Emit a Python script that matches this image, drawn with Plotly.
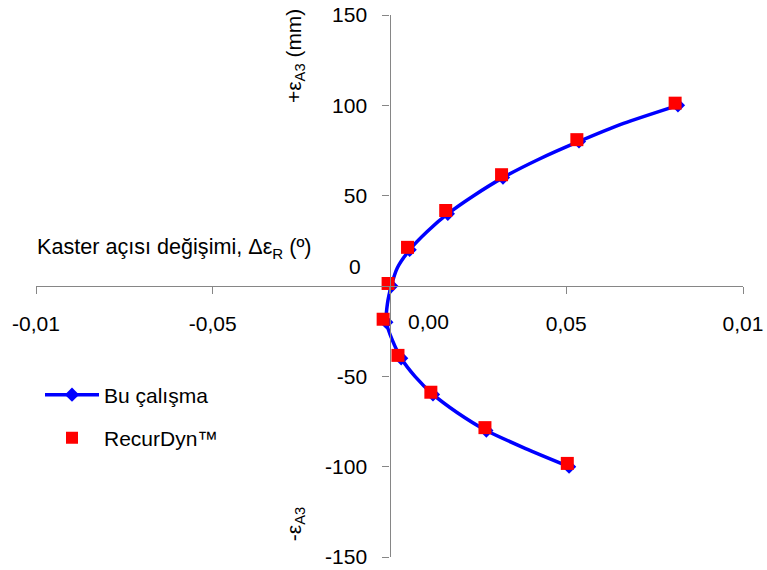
import plotly.graph_objects as go

# ---- data ----
# "Bu çalışma" curve (line through every 10 mm)
line_y = [100, 90, 80, 70, 60, 50, 40, 30, 20, 10, 0, -10, -20, -30, -40, -50, -60, -70, -80, -90, -100]
line_x = [0.0816, 0.0662, 0.0536, 0.0421, 0.0321, 0.0238, 0.0165, 0.0106, 0.0057, 0.0022, 0.0005,
          -0.0006, -0.0009, 0.0008, 0.0033, 0.0072, 0.0123, 0.0191, 0.0274, 0.0385, 0.0508]
# "Bu çalışma" markers (every 20 mm)
bu_y = [100, 80, 60, 40, 20, 0, -20, -40, -60, -80, -100]
bu_x = [0.0816, 0.0536, 0.0321, 0.0165, 0.0057, 0.0005, -0.0009, 0.0033, 0.0123, 0.0274, 0.0508]
# RecurDyn points
rd_y = [101.2, 81.0, 61.6, 41.8, 21.4, 1.4, -18.4, -38.4, -58.8, -78.4, -98.2]
rd_x = [0.0808, 0.0530, 0.0317, 0.0159, 0.0051, -0.0004, -0.0018, 0.0024, 0.0117, 0.0270, 0.0503]

x_tickvals = [-0.1, -0.05, 0.0, 0.05, 0.1]
x_ticktext = ["-0,01", "-0,05", "", "0,05", "0,01"]
y_tickvals = [-150, -100, -50, 0, 50, 100, 150]
y_ticktext = ["-150", "-100", "-50", "", "50", "100", "150"]

BLUE = "#0000FF"
RED = "#FF0000"
AXC = "#868686"
FONT = "Liberation Sans, Arial, sans-serif"
FS = 21

fig = go.Figure()
fig.add_trace(go.Scatter(x=line_x, y=line_y, mode="lines", line=dict(color=BLUE, width=3.5, shape="spline", smoothing=0.6),
                         showlegend=False, hoverinfo="skip"))
fig.add_trace(go.Scatter(x=bu_x, y=bu_y, mode="markers", marker=dict(symbol="diamond", size=11, color=BLUE),
                         showlegend=False))
fig.add_trace(go.Scatter(x=rd_x, y=rd_y, mode="markers", marker=dict(symbol="square", size=13, color=RED),
                         showlegend=False))
# legend entries
fig.add_trace(go.Scatter(x=[None], y=[None], mode="lines+markers", name="Bu çalışma",
                         line=dict(color=BLUE, width=3.5), marker=dict(symbol="diamond", size=11, color=BLUE),
                         legend="legend"))
fig.add_trace(go.Scatter(x=[None], y=[None], mode="markers", name="RecurDyn™",
                         marker=dict(symbol="square", size=12, color=RED), legend="legend2"))

W, H = 767, 570
L, T = 36, 15
R = W - 743
B = H - 557
pw = W - L - R
ph = H - T - B

def sx(px):  # screen px -> paper x
    return (px - L) / pw

def sy(py):  # screen px -> paper y
    return (H - B - py) / ph

fig.update_layout(
    width=W, height=H,
    margin=dict(l=L, r=R, t=T, b=B, autoexpand=False),
    paper_bgcolor="white", plot_bgcolor="white",
    font=dict(family=FONT, size=FS, color="black"),
    legend=dict(x=sx(40), y=sy(395), xanchor="left", yanchor="middle",
                bgcolor="rgba(0,0,0,0)", font=dict(size=FS), itemwidth=54),
    legend2=dict(x=sx(40), y=sy(438), xanchor="left", yanchor="middle",
                 bgcolor="rgba(0,0,0,0)", font=dict(size=FS), itemwidth=54),
    xaxis=dict(range=[-0.1, 0.1], anchor="free", position=0.5, showline=True, linecolor=AXC, linewidth=1.3,
               ticks="outside", ticklen=7, tickcolor=AXC, tickwidth=1.3, automargin=False,
               tickvals=x_tickvals, ticktext=x_ticktext, showgrid=False, zeroline=False,
               tickfont=dict(size=FS, color="black"), ticklabelstandoff=12, ticklabeloverflow="allow"),
    yaxis=dict(range=[-150, 150], anchor="free", position=0.5, showline=True, linecolor=AXC, linewidth=1.3,
               ticks="outside", ticklen=7, tickcolor=AXC, tickwidth=1.3, automargin=False,
               tickvals=y_tickvals, ticktext=y_ticktext, showgrid=False, zeroline=False,
               tickfont=dict(size=FS, color="black"), ticklabelstandoff=11, ticklabeloverflow="allow"),
)

fig.add_annotation(x=-0.0075, y=11, xref="x", yref="y", text="0", showarrow=False,
                   xanchor="right", yanchor="middle", font=dict(size=FS))
fig.add_annotation(x=0.011, y=-19.4, xref="x", yref="y", text="0,00", showarrow=False,
                   xanchor="center", yanchor="middle", font=dict(size=FS))
fig.add_annotation(x=-0.1, y=21, xref="x", yref="y", text="Kaster açısı değişimi, Δε<sub>R</sub> (º)",
                   showarrow=False, xanchor="left", yanchor="middle", font=dict(size=21.6), xshift=-1)
fig.add_annotation(x=-0.0269, y=127.5, xref="x", yref="y", text="+ε<sub>A3</sub> (mm)", textangle=-90,
                   showarrow=False, xanchor="center", yanchor="middle", font=dict(size=FS))
fig.add_annotation(x=-0.0269, y=-131.6, xref="x", yref="y", text="-ε<sub>A3</sub>", textangle=-90,
                   showarrow=False, xanchor="center", yanchor="middle", font=dict(size=FS))

fig.write_html("out.html",
               config={"displayModeBar": False},
               post_script="document.body.style.margin='0';document.body.style.overflow='hidden';")
